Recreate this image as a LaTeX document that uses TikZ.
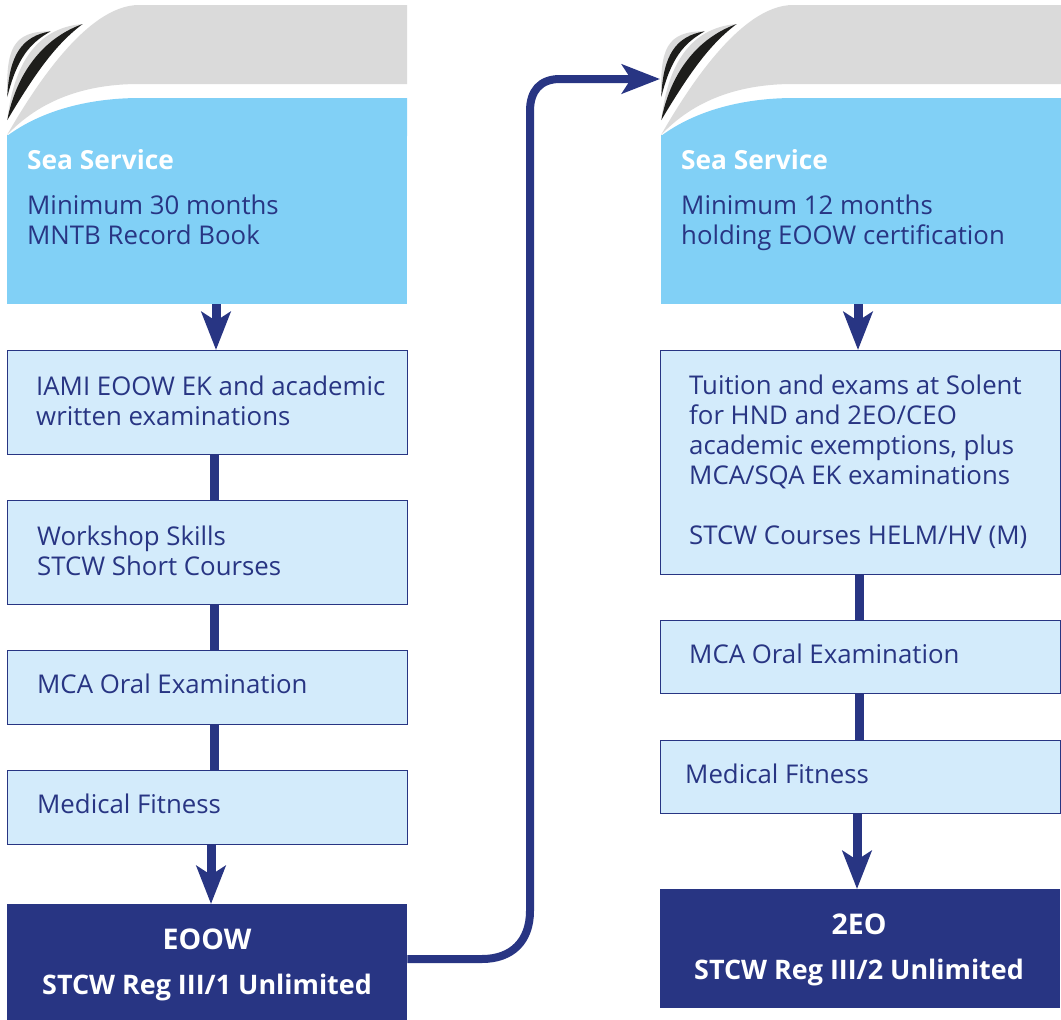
\documentclass[tikz,border=0pt]{standalone}
\usepackage{fontspec}
\setmainfont{Open Sans}
\usetikzlibrary{arrows.meta}
\definecolor{navy}{HTML}{283583}
\definecolor{sky}{HTML}{81D0F6}
\definecolor{pale}{HTML}{D3EBFB}
\definecolor{capgray}{HTML}{DADADA}
\definecolor{inkblack}{HTML}{1D1D1B}
\tikzset{
  box/.style={draw=navy,line width=0.9pt,fill=pale,inner sep=0pt,outer sep=0pt,minimum width=400pt,anchor=north west},
  seabox/.style={fill=sky,inner sep=0pt,minimum width=400pt,minimum height=169pt,anchor=north west},
  finalbox/.style={fill=navy,inner sep=0pt,minimum width=400pt,anchor=north west},
  lbl/.style={anchor=west,inner sep=0pt,align=left,text=navy,font=\fontsize{25.8}{30}\selectfont},
  seahead/.style={anchor=west,inner sep=0pt,text=white,font=\fontsize{26.3}{30}\selectfont\bfseries},
  finaltxt/.style={anchor=center,inner sep=0pt,text=white,font=\fontsize{26.9}{30}\selectfont\bfseries},
  finalhead/.style={anchor=center,inner sep=0pt,text=white,font=\fontsize{28.5}{30}\selectfont\bfseries},
  link/.style={draw=navy,line width=9pt},
  flow/.style={draw=navy,line width=9pt,-{Stealth[length=38pt,width=29pt,inset=9pt]}},
}
\newcommand{\seatop}{%
  \fill[capgray] (7,135) .. controls (30,95) and (85,5) .. (139,5) -- (407,5) -- (407,84) -- (139,84) .. controls (85,84) and (40,100) .. (7,135) -- cycle;
  \fill[sky] (7,136) .. controls (42,110) and (90,98) .. (140,98) -- (407,98) -- (407,136) -- cycle;
  \fill[capgray] (7.3,97) .. controls (6,50) and (12,31) .. (50.7,31.3) .. controls (30,40) and (14,55) .. (7.3,97) -- cycle;
  \fill[inkblack] (7.3,97) .. controls (9,55) and (22,36) .. (50.7,31.3) .. controls (30,43) and (17,58) .. (7.3,97) -- cycle;
  \fill[capgray] (7.3,120) .. controls (13,70) and (33,28) .. (82.7,24) .. controls (50,38) and (25,70) .. (7.3,120) -- cycle;
  \fill[inkblack] (7.3,120) .. controls (15,80) and (38,40) .. (82.7,24) .. controls (56,44) and (36,72) .. (7.3,120) -- cycle;
}
\begin{document}
\begin{tikzpicture}[x=1pt,y=-1pt]
\useasboundingbox (0,0) rectangle (1061,1020);
% left column
\node[seabox] (seaA) at (7,135) {};
\seatop
\node[seahead] (seaAh) at (27,160) {Sea Service};
\node[lbl] (seaAt) at (27,220) {Minimum 30 months\\MNTB Record Book};
\node[box,minimum height=104pt] (a1) at (7,350) {};
\node[lbl] (a1t) at (36,401) {IAMI EOOW EK and academic\\written examinations};
\node[box,minimum height=104pt] (a2) at (7,500) {};
\node[lbl] (a2t) at (37,551) {Workshop Skills\\STCW Short Courses};
\node[box,minimum height=74pt] (a3) at (7,650) {};
\node[lbl] (a3t) at (37,684) {MCA Oral Examination};
\node[box,minimum height=74pt] (a4) at (7,770) {};
\node[lbl] (a4t) at (37,804) {Medical Fitness};
\node[finalbox,minimum height=116pt] (a5) at (7,904) {};
\node[finalhead] (a5a) at (207,939) {EOOW};
\node[finaltxt] (a5b) at (207,988) {STCW Reg III/1 Unlimited};
% right column
\begin{scope}[shift={(654,0)}]
\node[seabox] (seaB) at (7,135) {};
\seatop
\coordinate (seaBtip) at (6,79);
\node[seahead] (seaBh) at (27,160) {Sea Service};
\node[lbl] (seaBt) at (27,223) {Minimum 12 months\\holding EOOW certification};
\end{scope}
\node[box,minimum height=224pt] (b1) at (660,350) {};
\node[lbl] (b1t) at (689,462) {Tuition and exams at Solent\\for HND and 2EO/CEO\\academic exemptions, plus\\MCA/SQA EK examinations\\[30pt]STCW Courses HELM/HV (M)};
\node[box,minimum height=73pt] (b2) at (660,620) {};
\node[lbl] (b2t) at (689,654) {MCA Oral Examination};
\node[box,minimum height=73pt] (b3) at (660,740) {};
\node[lbl] (b3t) at (685,774) {Medical Fitness};
\node[finalbox,minimum height=119pt] (b4) at (660,889) {};
\node[finalhead] (b4a) at (859,924) {2EO};
\node[finaltxt] (b4b) at (859,973) {STCW Reg III/2 Unlimited};
% connectors
\draw[flow] (seaA.south -| 216,0) -- (a1.north -| 216,0);
\draw[link] (a1.south -| 214,0) -- (a2.north -| 214,0);
\draw[link] (a2.south -| 214,0) -- (a3.north -| 214,0);
\draw[link] (a3.south -| 214,0) -- (a4.north -| 214,0);
\draw[flow] (a4.south -| 211,0) -- (a5.north -| 211,0);
\draw[flow] (seaB.south -| 858,0) -- (b1.north -| 858,0);
\draw[link] (b1.south -| 859,0) -- (b2.north -| 859,0);
\draw[link] (b2.south -| 859,0) -- (b3.north -| 859,0);
\draw[flow] (b3.south -| 857,0) -- (b4.north -| 857,0);
\draw[flow,line width=8pt] (a5.east |- 0,959) -- (482,959) .. controls (512,959) and (530,941) .. (530,911) -- (530,111) .. controls (530,91) and (540,79) .. (560,79) -- (seaBtip);
\end{tikzpicture}
\end{document}
